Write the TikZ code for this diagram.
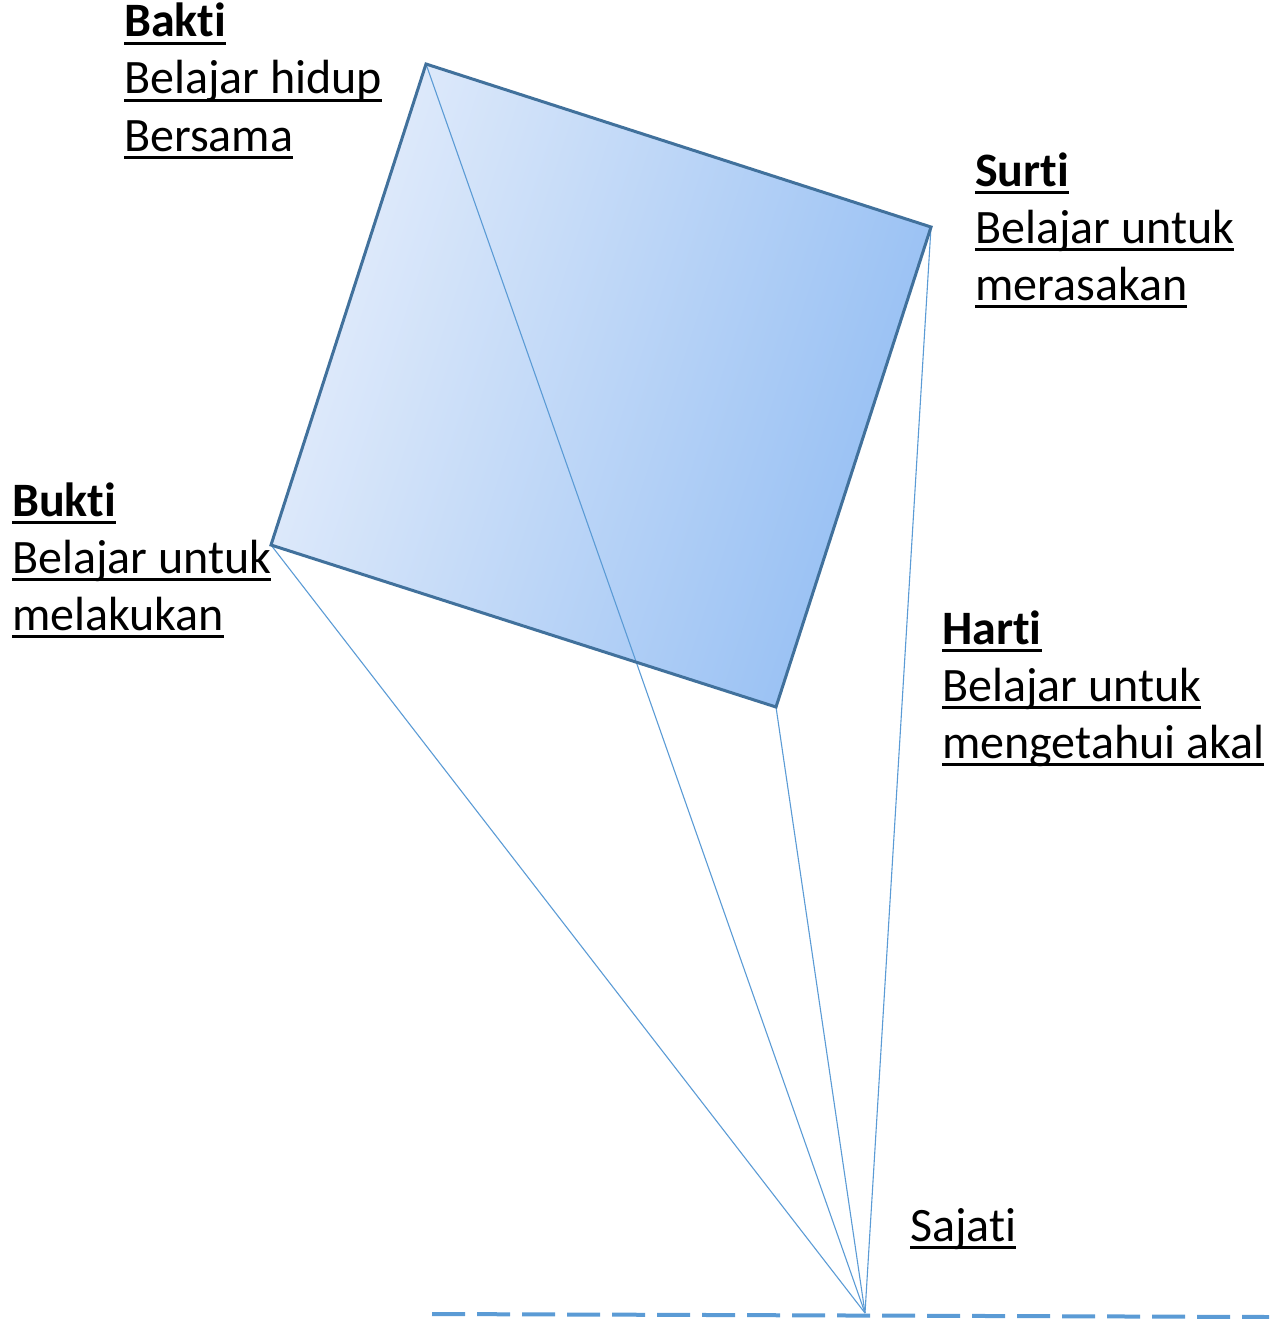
\documentclass[tikz,border=0pt]{standalone}
\usepackage{fontspec}
\setmainfont[Ligatures={NoCommon}]{Carlito}
\newcommand\ulx[1]{\setbox0\hbox{#1}\rlap{\rule[-8pt]{\wd0}{3pt}}\box0}
\newcommand\nolig{\kern0pt\relax}
\definecolor{lineblue}{RGB}{91,155,213}
\definecolor{edgeblue}{RGB}{65,113,156}
\definecolor{lightfill}{RGB}{228,237,251}
\definecolor{darkfill}{RGB}{148,190,243}
\begin{document}
\begin{tikzpicture}[x=1pt,y=-1pt,
  lbl/.style={anchor=base west,inner sep=0pt,font=\fontsize{48}{57}\selectfont},
  ray/.style={draw=lineblue,line width=1.1pt},
  ground/.style={draw=lineblue,line width=4pt,dash pattern=on 33pt off 12pt}]
\useasboundingbox (0,0) rectangle (1269,1319);
\coordinate (A) at (426,64);
\coordinate (B) at (931,227);
\coordinate (C) at (776,707);
\coordinate (D) at (271,545);
\coordinate (S) at (865,1313);
\coordinate (L1) at (432,1314);
\coordinate (L2) at (1269,1317);
\shade[top color=darkfill,bottom color=lightfill,shading angle=252] (A) -- (B) -- (C) -- (D) -- cycle;
\draw[ray] (S) -- (D);
\draw[ray] (S) -- (A);
\draw[ray] (S) -- (C);
\draw[ray] (S) -- (B);
\draw[edgeblue,line width=3pt,line join=miter] (A) -- (B) -- (C) -- (D) -- cycle;
\draw[ground] (L1) -- (L2);
% labels
\node[lbl] (bakti) at (124,37) {\ulx{\bfseries Bakt\nolig i}};
\node[lbl] (bakti2) at (124,94) {\ulx{Belajar hidup}};
\node[lbl] (bakti3) at (124,151) {\ulx{Bersama}};
\node[lbl] (surti) at (975,186) {\ulx{\bfseries Surt\nolig i}};
\node[lbl] (surti2) at (975,243) {\ulx{Belajar untuk}};
\node[lbl] (surti3) at (975,300) {\ulx{merasakan}};
\node[lbl] (bukti) at (12,516) {\ulx{\bfseries Bukt\nolig i}};
\node[lbl] (bukti2) at (12,573) {\ulx{Belajar untuk}};
\node[lbl] (bukti3) at (12,630) {\ulx{melakukan}};
\node[lbl] (harti) at (942,644) {\ulx{\bfseries Hart\nolig i}};
\node[lbl] (harti2) at (942,701) {\ulx{Belajar untuk}};
\node[lbl] (harti3) at (942,758) {\ulx{mengetahui akal}};
\node[lbl] (sajati) at (910,1241) {\ulx{Sajat\nolig i}};
\end{tikzpicture}
\end{document}
